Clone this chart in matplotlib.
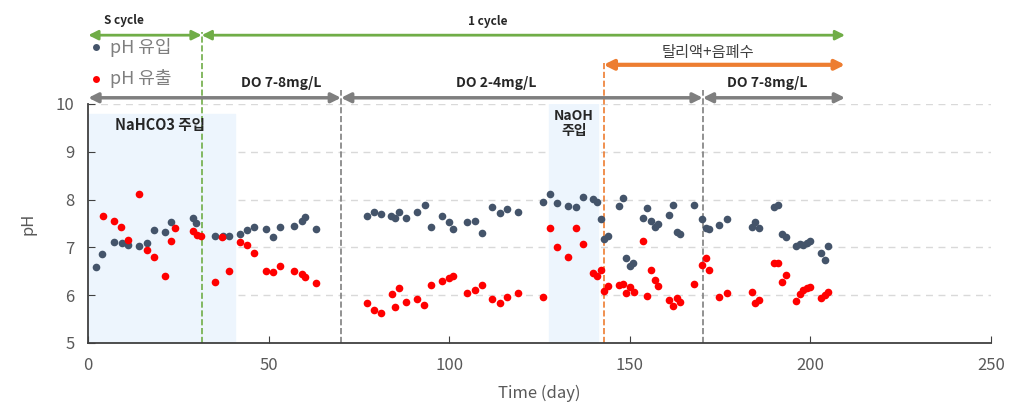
import numpy as np
import matplotlib.pyplot as plt

plt.rcParams['font.family'] = ['Noto Sans CJK KR', 'DejaVu Sans']

# pH influent (유입)
days_in = [2.1, 3.9, 7.1, 9.2, 11.1, 14.1, 16.2, 18.2, 21.2, 22.9, 29.1, 29.8, 35.1, 37.2, 39.1,
           42.0, 44.0, 46.0, 49.2, 51.1, 53.1, 57.0, 59.1, 60.0, 63.1,
           77.1, 79.1, 81.0, 83.8, 84.9, 86.1, 88.0, 91.0, 93.3, 94.9,
           97.9, 100.0, 101.1, 105.0, 107.1, 109.1, 111.9, 114.0, 116.0, 119.1,
           125.9, 127.9, 129.9, 133.0, 135.0, 137.1, 139.9, 141.0, 141.9, 142.9,
           144.0, 147.1, 148.0, 149.0, 150.0, 151.0, 153.7, 154.8, 155.9, 157.0,
           157.9, 160.7, 162.0, 163.0, 163.9, 167.8, 169.9, 171.1, 172.0, 174.8,
           177.0, 183.8, 184.7, 185.9, 189.8, 190.9, 192.1, 193.2, 196.0, 197.0,
           198.0, 199.0, 200.0, 202.9, 204.1, 205.0]
ph_in = [6.60, 6.86, 7.11, 7.10, 7.05, 7.03, 7.10, 7.36, 7.33, 7.53, 7.61, 7.50, 7.24, 7.24, 7.24,
         7.27, 7.36, 7.43, 7.38, 7.22, 7.43, 7.45, 7.56, 7.63, 7.38,
         7.66, 7.73, 7.70, 7.66, 7.61, 7.74, 7.61, 7.74, 7.89, 7.42,
         7.66, 7.53, 7.38, 7.53, 7.55, 7.31, 7.84, 7.71, 7.80, 7.75,
         7.96, 8.11, 7.92, 7.87, 7.84, 8.05, 8.01, 7.96, 7.59, 7.17,
         7.24, 7.87, 8.04, 6.77, 6.62, 6.67, 7.61, 7.82, 7.55, 7.43,
         7.49, 7.68, 7.89, 7.32, 7.28, 7.89, 7.59, 7.40, 7.38, 7.47,
         7.59, 7.43, 7.54, 7.41, 7.84, 7.89, 7.28, 7.21, 7.03, 7.07,
         7.05, 7.10, 7.13, 6.89, 6.74, 7.03]

# pH effluent (유출)
days_out = [4.2, 7.1, 9.1, 11.1, 14.1, 16.2, 18.2, 21.2, 22.9, 24.0, 29.1, 30.0, 31.1,
            35.1, 36.9, 39.1, 42.0, 44.0, 46.0, 49.2, 51.1, 53.1, 57.0, 59.1, 60.0, 63.1,
            77.1, 79.1, 81.0, 84.0, 84.9, 86.1, 88.0, 91.0, 93.1, 94.9,
            97.9, 100.0, 101.1, 105.0, 107.1, 109.1, 111.9, 114.0, 116.0, 119.1,
            125.9, 127.9, 129.9, 133.0, 135.0, 137.1, 139.9, 141.0, 142.0, 142.9,
            144.0, 147.1, 148.0, 149.0, 150.0, 151.1, 153.7, 154.8, 155.9, 157.0,
            157.9, 160.7, 161.9, 163.0, 163.9, 167.8, 169.9, 171.1, 172.0, 174.8,
            177.0, 183.8, 184.7, 185.9, 189.8, 190.9, 192.1, 193.2, 196.0, 197.0,
            198.0, 199.0, 200.0, 202.9, 204.1, 205.0]
ph_out = [7.66, 7.56, 7.43, 7.15, 8.11, 6.95, 6.79, 6.41, 7.13, 7.40, 7.34, 7.26, 7.24,
          6.27, 7.22, 6.51, 7.11, 7.05, 6.88, 6.51, 6.48, 6.61, 6.51, 6.44, 6.39, 6.26,
          5.84, 5.69, 5.62, 6.02, 5.75, 6.14, 5.86, 5.92, 5.80, 6.21,
          6.30, 6.35, 6.41, 6.05, 6.11, 6.21, 5.92, 5.84, 5.97, 6.05,
          5.96, 7.40, 7.00, 6.79, 7.40, 7.07, 6.46, 6.41, 6.53, 6.09,
          6.19, 6.22, 6.24, 6.05, 6.18, 6.07, 7.13, 5.98, 6.53, 6.31,
          6.20, 5.89, 5.78, 5.94, 5.86, 6.23, 6.64, 6.78, 6.53, 5.96,
          6.04, 6.07, 5.83, 5.90, 6.67, 6.67, 6.28, 6.43, 5.88, 6.03,
          6.11, 6.15, 6.18, 5.94, 6.00, 6.07]

# phase boundaries (day)
d_cycle = 31.4
d_do1 = 70.0
d_feed = 142.7
d_do2 = 170.2
d_end = 209.6

fig = plt.figure(figsize=(10.29, 4.17), dpi=100)
ax = fig.add_axes([0.0858, 0.1775, 0.8772, 0.5731])

grey = '#595959'
ax.set_xlim(0, 250)
ax.set_ylim(5, 10)
ax.set_xticks(range(0, 251, 50))
ax.set_yticks(range(5, 11))
for y in range(6, 11):
    ax.axhline(y, color='#d9d9d9', ls=(0, (5, 4)), lw=1, zorder=0)

# chemical dosing shades
ax.axvspan(0, 40.6, ymin=0, ymax=0.96, color='#edf5fd', zorder=0)
ax.axvspan(127.7, 141.2, color='#edf5fd', zorder=0)
ax.text(20, 9.56, 'NaHCO3 주입', ha='center', va='center', fontsize=10.5, fontweight='bold', color='#262626')
ax.text(134.5, 9.6, 'NaOH\n주입', ha='center', va='center', fontsize=10, fontweight='bold',
        color='#262626', linespacing=1.1)

ax.plot(days_in, ph_in, 'o', color='#44546a', ms=5.5, mec='none', zorder=3)
ax.plot(days_out, ph_out, 'o', color='#ff0000', ms=5.5, mec='none', zorder=3)

# vertical phase lines
ax.plot([d_cycle, d_cycle], [5, 11.5], color='#70ad47', ls='--', lw=1.2, clip_on=False, zorder=2)
ax.plot([d_do1, d_do1], [5, 10.3], color='#7f7f7f', ls='--', lw=1.2, clip_on=False, zorder=2)
ax.plot([d_feed, d_feed], [5, 10.9], color='#ed7d31', ls='--', lw=1.2, clip_on=False, zorder=2)
ax.plot([d_do2, d_do2], [5, 10.3], color='#7f7f7f', ls='--', lw=1.2, clip_on=False, zorder=2)

def span_arrow(x0, x1, y, color, lw):
    ax.annotate('', xy=(x1, y), xytext=(x0, y), annotation_clip=False,
                arrowprops=dict(arrowstyle='<|-|>', color=color, lw=lw,
                                mutation_scale=14, shrinkA=0, shrinkB=0))

span_arrow(0, d_cycle, 11.44, '#70ad47', 2)
span_arrow(d_cycle, d_end, 11.44, '#70ad47', 2)
span_arrow(d_feed, d_end, 10.82, '#ed7d31', 3)
span_arrow(0, d_do1, 10.13, '#7f7f7f', 2.5)
span_arrow(d_do1, d_do2, 10.13, '#7f7f7f', 2.5)
span_arrow(d_do2, d_end, 10.13, '#7f7f7f', 2.5)

ax.text(10, 11.74, 'S cycle', ha='center', va='center', fontsize=8.5, fontweight='bold', color='#262626')
ax.text(110.5, 11.72, '1 cycle', ha='center', va='center', fontsize=8.5, fontweight='bold', color='#262626')
ax.text(171.5, 11.08, '탈리액+음폐수', ha='center', va='center', fontsize=11, color='#404040')
ax.text(53.5, 10.43, 'DO 7-8mg/L', ha='center', va='center', fontsize=10, fontweight='bold', color='#262626')
ax.text(113, 10.43, 'DO 2-4mg/L', ha='center', va='center', fontsize=10, fontweight='bold', color='#262626')
ax.text(188, 10.43, 'DO 7-8mg/L', ha='center', va='center', fontsize=10, fontweight='bold', color='#262626')

# legend drawn as text
ax.plot([2], [11.19], 'o', color='#44546a', ms=5, mec='none', clip_on=False)
ax.plot([2], [10.53], 'o', color='#ff0000', ms=5, mec='none', clip_on=False)
ax.text(6, 11.19, 'pH 유입', va='center', fontsize=13, color='#7f7f7f')
ax.text(6, 10.53, 'pH 유출', va='center', fontsize=13, color='#7f7f7f')

for s in ['top', 'right']:
    ax.spines[s].set_visible(False)
for s in ['left', 'bottom']:
    ax.spines[s].set_color('#404040')
    ax.spines[s].set_linewidth(1.3)
ax.tick_params(direction='in', length=5, color='#404040', labelsize=12, labelcolor=grey, pad=10)
ax.set_xlabel('Time (day)', fontsize=12, color=grey, labelpad=8)
ax.set_ylabel('pH', fontsize=12, color=grey, labelpad=14)

fig.savefig('out.png', dpi=100)
